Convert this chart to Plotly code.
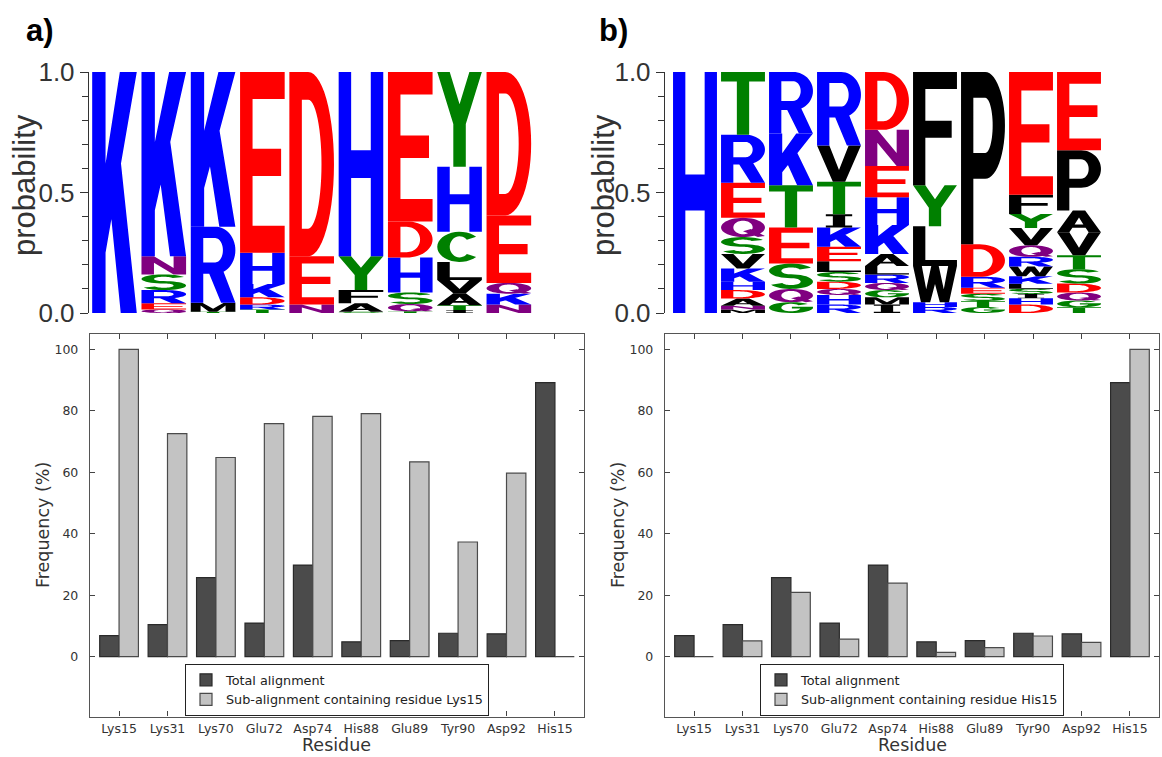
import math
import plotly.graph_objects as go

# ---------------- data ----------------
residues = ["Lys15", "Lys31", "Lys70", "Glu72", "Asp74", "His88", "Glu89", "Tyr90", "Asp92", "His15"]
total_alignment = [6.8, 10.4, 25.7, 10.9, 29.8, 4.8, 5.2, 7.6, 7.4, 89.2]
sub_alignment_lys15 = [100.0, 72.6, 64.8, 75.8, 78.2, 79.1, 63.4, 37.3, 59.7, 0.0]
sub_alignment_his15 = [0.0, 5.1, 20.9, 5.7, 23.9, 1.4, 2.9, 6.7, 4.6, 100.0]

# sequence logo columns, stacks listed bottom -> top as (residue letter, probability)
logo_a_columns = [
    [("K", 1.0)],
    [("Q", 0.015), ("E", 0.025), ("R", 0.055), ("S", 0.065), ("N", 0.075), ("K", 0.765)],
    [("T", 0.005), ("M", 0.038), ("R", 0.315), ("K", 0.642)],
    [("T", 0.015), ("R", 0.02), ("D", 0.03), ("K", 0.055), ("H", 0.13), ("E", 0.75)],
    [("N", 0.035), ("E", 0.2), ("D", 0.765)],
    [("S", 0.005), ("A", 0.035), ("F", 0.055), ("Y", 0.14), ("H", 0.765)],
    [("T", 0.007), ("Q", 0.03), ("S", 0.048), ("H", 0.145), ("D", 0.15), ("E", 0.62)],
    [("I", 0.012), ("T", 0.02), ("A", 0.05), ("V", 0.055), ("L", 0.075), ("C", 0.125), ("H", 0.27), ("Y", 0.393)],
    [("N", 0.035), ("K", 0.045), ("Q", 0.045), ("E", 0.28), ("D", 0.595)],
]
logo_b_columns = [
    [("H", 1.0)],
    [("M", 0.015), ("N", 0.015), ("A", 0.03), ("D", 0.035), ("H", 0.035), ("K", 0.055), ("V", 0.06),
     ("S", 0.07), ("Q", 0.08), ("E", 0.145), ("R", 0.2), ("T", 0.26)],
    [("G", 0.045), ("Q", 0.055), ("S", 0.105), ("E", 0.15), ("T", 0.175), ("K", 0.215), ("R", 0.255)],
    [("R", 0.035), ("H", 0.04), ("Q", 0.025), ("D", 0.03), ("S", 0.04), ("L", 0.045), ("E", 0.06),
     ("K", 0.08), ("I", 0.055), ("T", 0.135), ("V", 0.15), ("R", 0.305)],
    [("I", 0.035), ("M", 0.03), ("G", 0.03), ("Q", 0.03), ("R", 0.035), ("L", 0.035), ("A", 0.05),
     ("K", 0.12), ("H", 0.115), ("E", 0.13), ("N", 0.15), ("D", 0.24)],
    [("R", 0.025), ("H", 0.02), ("W", 0.15), ("L", 0.165), ("Y", 0.17), ("F", 0.47)],
    [("G", 0.025), ("T", 0.025), ("S", 0.03), ("E", 0.025), ("R", 0.045), ("D", 0.135), ("P", 0.715)],
    [("D", 0.035), ("H", 0.026), ("I", 0.018), ("S", 0.022), ("L", 0.02), ("K", 0.032), ("W", 0.04),
     ("R", 0.04), ("Q", 0.048), ("V", 0.072), ("Y", 0.058), ("F", 0.08), ("E", 0.509)],
    [("T", 0.024), ("G", 0.028), ("Q", 0.033), ("D", 0.037), ("S", 0.06), ("T", 0.058), ("V", 0.095),
     ("A", 0.09), ("P", 0.25), ("E", 0.325)],
]

# ---------------- styling ----------------
COLORS = {}
for c in "KRH":
    COLORS[c] = "#0000ff"
for c in "DE":
    COLORS[c] = "#ff0000"
for c in "GSTYC":
    COLORS[c] = "#008000"
for c in "NQ":
    COLORS[c] = "#800080"
for c in "AVLIPWFM":
    COLORS[c] = "#000000"

ST = 0.28   # stem width (fraction of glyph width)
BH = 0.15   # bar height (fraction of glyph height)


def rect(x0, y0, x1, y1):
    return [(x0, y0), (x1, y0), (x1, y1), (x0, y1)]


def arc(cx, cy, rx, ry, a0, a1, n=28):
    pts = []
    for k in range(n + 1):
        a = math.radians(a0 + (a1 - a0) * k / n)
        pts.append((cx + rx * math.cos(a), cy + ry * math.sin(a)))
    return pts


def ring(cx, cy, rx, ry, t, h, a0, a1, n=28):
    return arc(cx, cy, rx, ry, a0, a1, n) + arc(cx, cy, rx - t, ry - h, a1, a0, n)


def glyph(ch):
    t, h = ST, BH
    if ch == "A":
        return [([(0, 0), (0.28, 0), (0.35, 0.21), (0.65, 0.21), (0.72, 0), (1, 0), (0.64, 1), (0.36, 1)], False),
                ([(0.40, 0.36), (0.60, 0.36), (0.5, 0.68)], True)]
    if ch == "C":
        return [(ring(0.5, 0.5, 0.5, 0.5, t, h, 42, 318), False)]
    if ch == "D":
        return [([(0, 0), (0.42, 0)] + arc(0.42, 0.5, 0.58, 0.5, -90, 90) + [(0, 1)], False),
                ([(t, h), (0.42, h)] + arc(0.42, 0.5, 0.58 - t, 0.5 - h, -90, 90) + [(t, 1 - h)], True)]
    if ch == "E":
        return [([(0, 0), (1, 0), (1, h), (t, h), (t, 0.5 - h / 2), (0.92, 0.5 - h / 2), (0.92, 0.5 + h / 2),
                  (t, 0.5 + h / 2), (t, 1 - h), (1, 1 - h), (1, 1), (0, 1)], False)]
    if ch == "F":
        return [([(0, 0), (t, 0), (t, 0.42), (0.88, 0.42), (0.88, 0.42 + h), (t, 0.42 + h), (t, 1 - h),
                  (1, 1 - h), (1, 1), (0, 1)], False)]
    if ch == "G":
        return [(ring(0.5, 0.5, 0.5, 0.5, t, h, 40, 360), False), (rect(0.52, 0.42, 1.0, 0.42 + h), False)]
    if ch == "H":
        return [([(0, 0), (t, 0), (t, 0.5 - h / 2), (1 - t, 0.5 - h / 2), (1 - t, 0), (1, 0), (1, 1), (1 - t, 1),
                  (1 - t, 0.5 + h / 2), (t, 0.5 + h / 2), (t, 1), (0, 1)], False)]
    if ch == "I":
        return [(rect(0.5 - t / 2, 0, 0.5 + t / 2, 1), False), (rect(0.2, 0, 0.8, h), False),
                (rect(0.2, 1 - h, 0.8, 1), False)]
    if ch == "K":
        return [(rect(0, 0, 0.3, 1), False), ([(0.3, 0.25), (1, 1), (0.62, 1), (0.3, 0.62)], False),
                ([(0.36, 0.52), (0.64, 0), (1, 0), (0.6, 0.7)], False)]
    if ch == "L":
        return [([(0, 0), (1, 0), (1, h), (t, h), (t, 1), (0, 1)], False)]
    if ch == "M":
        return [([(0, 0), (0.22, 0), (0.22, 0.7), (0.41, 0), (0.59, 0), (0.78, 0.7), (0.78, 0), (1, 0), (1, 1),
                  (0.74, 1), (0.5, 0.32), (0.26, 1), (0, 1)], False)]
    if ch == "N":
        return [([(0, 0), (t, 0), (t, 0.64), (0.72, 0), (1, 0), (1, 1), (1 - t, 1), (1 - t, 0.36), (0.28, 1),
                  (0, 1)], False)]
    if ch in "PR":
        parts = [([(0, 0), (t, 0), (t, 0.38), (0.55, 0.38)] + arc(0.55, 0.69, 0.45, 0.31, -90, 90) + [(0, 1)], False),
                 ([(t, 0.38 + h), (0.55, 0.38 + h)] + arc(0.55, 0.69, 0.45 - t, 0.31 - h, -90, 90) + [(t, 1 - h)], True)]
        if ch == "R":
            parts.append(([(0.40, 0.40), (0.68, 0), (1, 0), (0.70, 0.46)], False))
        return parts
    if ch == "Q":
        return [(arc(0.5, 0.5, 0.5, 0.5, 0, 360, 48)[:-1], False),
                (arc(0.5, 0.5, 0.5 - t, 0.5 - h, 0, 360, 48)[:-1], True),
                ([(0.5, 0.3), (0.68, 0.42), (1.0, 0.06), (0.84, 0.0)], False)]
    if ch == "S":
        r = 0.25 + h / 4
        return [(ring(0.5, 1 - r, 0.5, r, t, h, 25, 270), False), (ring(0.5, r, 0.5, r, t, h, -155, 90), False)]
    if ch == "T":
        return [([(0, 1 - h), (0.5 - t / 2, 1 - h), (0.5 - t / 2, 0), (0.5 + t / 2, 0), (0.5 + t / 2, 1 - h),
                  (1, 1 - h), (1, 1), (0, 1)], False)]
    if ch == "V":
        return [([(0, 1), (0.36, 0), (0.64, 0), (1, 1), (0.72, 1), (0.5, 0.32), (0.28, 1)], False)]
    if ch == "W":
        return [([(0, 1), (0.18, 0), (0.39, 0), (0.5, 0.5), (0.61, 0), (0.82, 0), (1, 1), (0.8, 1), (0.7, 0.36),
                  (0.585, 1), (0.415, 1), (0.3, 0.36), (0.2, 1)], False)]
    if ch == "Y":
        return [([(0, 1), (0.36, 0.45), (0.36, 0), (0.64, 0), (0.64, 0.45), (1, 1), (0.72, 1), (0.5, 0.66),
                  (0.28, 1)], False)]
    return [(rect(0, 0, 1, 1), False)]


def signed_area(p):
    s = 0.0
    n = len(p)
    for i in range(n):
        x0, y0 = p[i]
        x1, y1 = p[(i + 1) % n]
        s += x0 * y1 - x1 * y0
    return s / 2


def logo_shapes(columns, xref, yref, letter_width):
    shapes = []
    for ci, stack in enumerate(columns):
        base = 0.0
        for ch, p in stack:
            x0 = ci - letter_width / 2
            parts = []
            for poly, hole in glyph(ch):
                a = signed_area(poly)
                if (a > 0) == hole:
                    poly = poly[::-1]
                pts = [(x0 + gx * letter_width, base + gy * p) for gx, gy in poly]
                parts.append("M " + " L ".join(f"{x:.5f} {y:.6f}" for x, y in pts) + " Z")
            shapes.append(dict(type="path", path=" ".join(parts), xref=xref, yref=yref,
                               fillcolor=COLORS[ch], line=dict(width=0), fillrule="nonzero", layer="above"))
            base += p
    return shapes


FW, FH = 1162, 757


def px(x):
    return x / FW


def py(y):
    return 1 - y / FH


fig = go.Figure()

DARK = "#4b4b4b"
LIGHT = "#c3c3c3"
bar_font = dict(family="DejaVu Sans", size=12.5, color="#333333")

fig.add_trace(go.Bar(x=residues, y=total_alignment, name="Total alignment",
                     marker=dict(color=DARK, line=dict(color="#2a2a2a", width=1.2)),
                     xaxis="x3", yaxis="y3", legend="legend"))
fig.add_trace(go.Bar(x=residues, y=sub_alignment_lys15, name="Sub-alignment containing residue Lys15",
                     marker=dict(color=LIGHT, line=dict(color="#4a4a4a", width=1.2)),
                     xaxis="x3", yaxis="y3", legend="legend"))
fig.add_trace(go.Bar(x=residues, y=total_alignment, name="Total alignment",
                     marker=dict(color=DARK, line=dict(color="#2a2a2a", width=1.2)),
                     xaxis="x4", yaxis="y4", legend="legend2"))
fig.add_trace(go.Bar(x=residues, y=sub_alignment_his15, name="Sub-alignment containing residue His15",
                     marker=dict(color=LIGHT, line=dict(color="#4a4a4a", width=1.2)),
                     xaxis="x4", yaxis="y4", legend="legend2"))

shapes = logo_shapes(logo_a_columns, "x", "y", 0.905) + logo_shapes(logo_b_columns, "x2", "y2", 0.915)

logo_y = dict(range=[0, 1], tickvals=[0, 0.5, 1.0], ticktext=["0.0", "0.5", "1.0"], ticks="outside",
              ticklen=8, tickwidth=1.3, tickcolor="#333333", showline=True, linecolor="#333333", linewidth=1.4,
              showgrid=False, zeroline=False, fixedrange=True,
              tickfont=dict(family="Liberation Sans", size=26, color="#333333"),
              minor=dict(dtick=0.1, tick0=0, ticks="outside", ticklen=6, tickwidth=1.2, tickcolor="#333333",
                         showgrid=False))

bar_x = dict(type="category", range=[-0.6, 9.6], showline=True, mirror="ticks", ticks="inside", ticklen=5,
             tickwidth=1, tickcolor="#444444", linecolor="#555555", linewidth=1.4, showgrid=False,
             zeroline=False, tickfont=bar_font, fixedrange=True)
bar_y = dict(range=[-19.5, 105], tickvals=[0, 20, 40, 60, 80, 100], showline=True, mirror="ticks",
             ticks="inside", ticklen=5, tickwidth=1, tickcolor="#444444", linecolor="#555555", linewidth=1.4,
             showgrid=False, zeroline=False, tickfont=bar_font, ticklabelstandoff=8, fixedrange=True)

legend_style = dict(bordercolor="#222222", borderwidth=1, bgcolor="white",
                    font=dict(family="DejaVu Sans", size=12.8, color="#222222"),
                    yanchor="top", xanchor="center", tracegroupgap=0, itemwidth=30)

fig.update_layout(
    width=FW, height=FH, autosize=False,
    margin=dict(l=0, r=0, t=0, b=0, pad=0, autoexpand=False),
    paper_bgcolor="white", plot_bgcolor="white",
    barmode="group", bargap=0.2, bargroupgap=0.0,
    showlegend=True,
    xaxis=dict(domain=[px(89), px(533.5)], range=[-0.517, 8.5], visible=False, fixedrange=True, anchor="y"),
    yaxis=dict(domain=[py(313), py(72)], anchor="x", **logo_y),
    xaxis2=dict(domain=[px(665), px(1103)], range=[-0.625, 8.5], visible=False, fixedrange=True, anchor="y2"),
    yaxis2=dict(domain=[py(313), py(72)], anchor="x2", **logo_y),
    xaxis3=dict(domain=[px(90), px(584)], anchor="y3", **bar_x),
    yaxis3=dict(domain=[py(716.5), py(334)], anchor="x3", **bar_y),
    xaxis4=dict(domain=[px(665), px(1159)], anchor="y4", **bar_x),
    yaxis4=dict(domain=[py(716.5), py(334)], anchor="x4", **bar_y),
    legend=dict(x=px(337), y=py(664), **legend_style),
    legend2=dict(x=px(912), y=py(664), **legend_style),
    shapes=shapes,
)

annotations = [
    dict(text="<b>a)</b>", x=px(40), y=py(30), font=dict(family="Liberation Sans", size=31, color="black")),
    dict(text="<b>b)</b>", x=px(613), y=py(30), font=dict(family="Liberation Sans", size=31, color="black")),
    dict(text="probability", x=px(24), y=py(185), textangle=-90,
         font=dict(family="Liberation Sans", size=31, color="#333333")),
    dict(text="probability", x=px(603), y=py(185), textangle=-90,
         font=dict(family="Liberation Sans", size=31, color="#333333")),
    dict(text="Frequency (%)", x=px(43), y=py(525), textangle=-90,
         font=dict(family="DejaVu Sans", size=17.5, color="#333333")),
    dict(text="Frequency (%)", x=px(618), y=py(525), textangle=-90,
         font=dict(family="DejaVu Sans", size=17.5, color="#333333")),
    dict(text="Residue", x=px(337), y=py(745), font=dict(family="DejaVu Sans", size=17.5, color="#333333")),
    dict(text="Residue", x=px(912), y=py(745), font=dict(family="DejaVu Sans", size=17.5, color="#333333")),
]
for a in annotations:
    a.update(xref="paper", yref="paper", showarrow=False, xanchor="center", yanchor="middle")
fig.update_layout(annotations=annotations)

fig.write_html("out.html")
